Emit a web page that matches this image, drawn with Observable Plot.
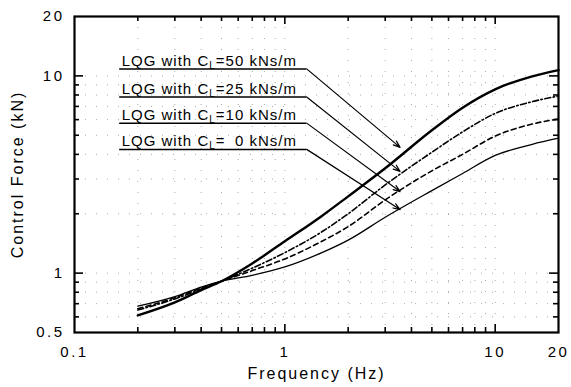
<!DOCTYPE html>
<html><head><meta charset="utf-8">
<script src="https://cdn.jsdelivr.net/npm/d3@7"></script>
<script src="https://cdn.jsdelivr.net/npm/@observablehq/plot@0.6"></script>
<style>
body{margin:0;background:#fff;}
svg text{font-family:"Liberation Sans",Arial,sans-serif;}
g[aria-label="x-axis tick label"] text, g[aria-label="y-axis tick label"] text{letter-spacing:2.5px;}
.axlab text{letter-spacing:2px;}
.annot text{letter-spacing:1px;}
</style></head><body><div id="chart"></div>
<script>
// Frequency (Hz)
const freq = [0.2, 0.3, 0.4, 0.5, 0.7, 1, 1.5, 2, 3, 5, 7, 10, 15, 20];
// Control force (kN) for each LQG design
const cl50 = [0.61, 0.71, 0.82, 0.91, 1.12, 1.45, 1.95, 2.45, 3.4, 5.3, 6.9, 8.55, 9.95, 10.7];
const cl25 = [0.65, 0.74, 0.83, 0.91, 1.06, 1.27, 1.62, 2.0, 2.8, 4.1, 5.2, 6.45, 7.4, 7.9];
const cl10 = [0.66, 0.75, 0.84, 0.91, 1.03, 1.18, 1.45, 1.72, 2.35, 3.3, 4.0, 4.95, 5.7, 6.05];
const cl0  = [0.68, 0.76, 0.85, 0.91, 0.975, 1.075, 1.27, 1.47, 1.92, 2.62, 3.2, 3.95, 4.5, 4.83];

// tick values
const xTickLabels = [0.1, 1, 10, 20];
const yTickLabels = [0.5, 1, 10, 20];
const xMajor = [1, 10];
const xMinor = [0.2,0.3,0.4,0.5,0.6,0.7,0.8,0.9,2,3,4,5,6,7,8,9];
const yMajor = [1, 10];
const yMinor = [0.6,0.7,0.8,0.9,2,3,4,5,6,7,8,9];

// annotations (labels with leader arrows)
const annLabels = ["LQG with C_L=50 kNs/m", "LQG with C_L=25 kNs/m", "LQG with C_L=10 kNs/m", "LQG with C_L=\u20070 kNs/m"];
const annLineY = [10.85, 7.82, 5.76, 4.24];
const annLineX1 = 0.164, annLineX2 = 1.27;
const annTipX = 3.53;
const annTipY = [4.34, 3.28, 2.59, 2.10];

const series = [
  {name: "50", vals: cl50, sw: 2.4, dash: null},
  {name: "25", vals: cl25, sw: 1.6, dash: "6,2.5,1.5,2.5"},
  {name: "10", vals: cl10, sw: 1.6, dash: "5,3.5"},
  {name: "0",  vals: cl0,  sw: 1.3, dash: null}
];
const rows = s => freq.map((f, i) => ({f, v: s.vals[i]}));
const annot = annLabels.map((label, i) => ({label, y: annLineY[i], tipY: annTipY[i]}));

const W = 571, H = 387, mT = 16, mB = 55, mL = 74, mR = 13;
const iH = H - mT - mB, iW = W - mL - mR;
const ext = [0.5, 20], exX = [0.1, 20];
// pixel length -> multiplicative factor on a log axis
const fy = len => Math.pow(10, len * Math.log10(ext[1] / ext[0]) / iH);
const fx = len => Math.pow(10, len * Math.log10(exX[1] / exX[0]) / iW);
const tw = 1.6;
const tickB = (vals, len) => Plot.ruleX(vals, {x: d => d, y1: ext[0], y2: ext[0] * fy(len), strokeWidth: tw});
const tickT = (vals, len) => Plot.ruleX(vals, {x: d => d, y1: ext[1], y2: ext[1] / fy(len), strokeWidth: tw});
const tickL = (vals, len) => Plot.ruleY(vals, {y: d => d, x1: exX[0], x2: exX[0] * fx(len), strokeWidth: tw});
const tickR = (vals, len) => Plot.ruleY(vals, {y: d => d, x1: exX[1], x2: exX[1] / fx(len), strokeWidth: tw});
const gridStyle = {stroke: "#666", strokeOpacity: 0.7, strokeWidth: 0.8, strokeDasharray: "1,10"};

const chart = Plot.plot({
  width: W, height: H, marginTop: mT, marginBottom: mB, marginLeft: mL, marginRight: mR,
  x: {type: "log", domain: exX},
  y: {type: "log", domain: ext},
  style: {fontFamily: "Liberation Sans, Arial, sans-serif", fontSize: "15px", color: "black", background: "white"},
  marks: [
    Plot.gridX([...xMinor, ...xMajor], gridStyle),
    Plot.gridY([...yMinor, ...yMajor], gridStyle),
    ...series.map(s => Plot.line(rows(s), {x: "f", y: "v", stroke: "black", strokeWidth: s.sw, strokeDasharray: s.dash, curve: "monotone-x"})),
    Plot.ruleY(annot, {y: "y", x1: annLineX1, x2: annLineX2, strokeWidth: 1.5}),
    Plot.arrow(annot, {x1: annLineX2, y1: "y", x2: annTipX, y2: "tipY", strokeWidth: 1.2, headLength: 9, headAngle: 40}),
    Plot.text(annot, {x: annLineX1, y: "y", text: "label", textAnchor: "start", lineAnchor: "bottom", dx: 2, dy: -3, fontSize: 15, className: "annot"}),
    tickB(xMinor, 5), tickB(xMajor, 8), tickT(xMinor, 5), tickT(xMajor, 8),
    tickL(yMinor, 5), tickL(yMajor, 9), tickR(yMinor, 5), tickR(yMajor, 9),
    Plot.frame({strokeWidth: 2.2}),
    Plot.axisX(xTickLabels, {anchor: "bottom", tickSize: 0, tickPadding: 14, tickFormat: d => String(d), label: null, fontSize: 15}),
    Plot.axisY(yTickLabels, {anchor: "left", tickSize: 0, tickPadding: 10, tickFormat: d => String(d), label: null, fontSize: 15}),
    Plot.text(["Frequency (Hz)"], {frameAnchor: "bottom", textAnchor: "middle", dy: 46, fontSize: 16, className: "axlab"}),
    Plot.text(["Control Force (kN)"], {frameAnchor: "left", textAnchor: "middle", dx: -57, rotate: -90, fontSize: 16, className: "axlab"})
  ]
});
document.getElementById("chart").appendChild(chart);

// subscript L in C_L
chart.querySelectorAll(".annot text").forEach(t => {
  const s = t.textContent;
  const [a, b] = s.split("C_L");
  if (b === undefined) return;
  while (t.firstChild) t.removeChild(t.firstChild);
  const ns = "http://www.w3.org/2000/svg";
  t.appendChild(document.createTextNode(a + "C"));
  const sub = document.createElementNS(ns, "tspan");
  sub.setAttribute("dy", "3"); sub.setAttribute("font-size", "10");
  sub.textContent = "L";
  t.appendChild(sub);
  const rest = document.createElementNS(ns, "tspan");
  rest.setAttribute("dy", "-3");
  rest.textContent = b;
  t.appendChild(rest);
});
</script></body></html>
